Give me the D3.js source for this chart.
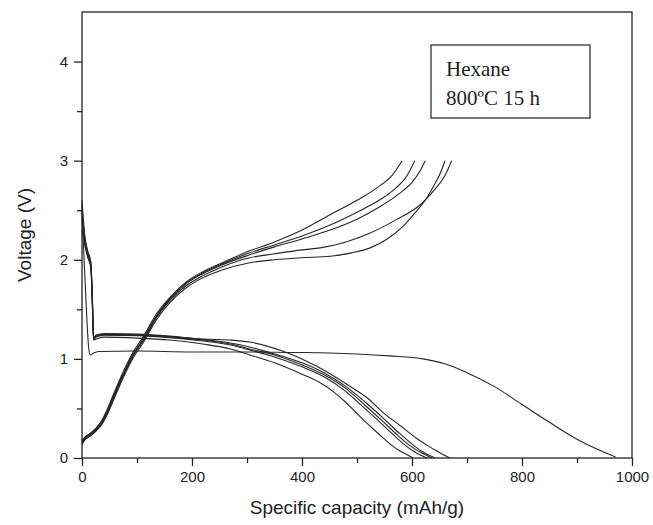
<!DOCTYPE html>
<html>
<head>
<meta charset="utf-8">
<script src="https://cdn.jsdelivr.net/npm/d3@7"></script>
<style>
  body { margin: 0; background: #fff; }
  .axis text { font-family: 'Liberation Sans', Arial, sans-serif; font-size: 15px; fill: #222; }
  .axis path, .axis line { stroke: #222; stroke-width: 1.3; }
  .curve { fill: none; stroke: #262626; stroke-width: 1.1; }
</style>
</head>
<body>
<div id="chart"></div>
<script>
// x = specific capacity (mAh/g), y = voltage (V)
const xTicks = [0, 200, 400, 600, 800, 1000];
const xMinor = [100, 300, 500, 700, 900];
const yTicks = [0, 1, 2, 3, 4];
const yMinor = [0.5, 1.5, 2.5, 3.5];
const legendLines = ['Hexane', '800ºC 15 h'];

// discharge curves
const discharge1 = [[0,2.55],[3,2.1],[8,1.5],[12,1.12],[15,1.04],[20,1.055],[30,1.075],[100,1.08],[200,1.07],[300,1.07],[378,1.065],[450,1.06],[500,1.05],[560,1.03],[620,1.0],[660,0.95],[700,0.86],[750,0.72],[800,0.54],[850,0.36],[900,0.19],[940,0.08],[970,0.01]];
const discharge2 = [[0,2.3],[5,2.15],[10,2.03],[16,1.92],[19,1.5],[21,1.19],[26,1.2],[40,1.22],[100,1.21],[160,1.19],[220,1.15],[270,1.1],[305,1.04],[350,0.96],[396,0.855],[430,0.77],[457,0.67],[480,0.56],[505,0.42],[528,0.3],[548,0.2],[565,0.12],[578,0.07],[592,0.03],[602,0.0]];
const discharge3 = [[0,2.45],[5,2.2],[10,2.06],[16,1.95],[19,1.55],[21,1.2],[26,1.22],[40,1.24],[100,1.235],[160,1.215],[220,1.18],[270,1.14],[305,1.09],[350,1.02],[400,0.92],[440,0.82],[480,0.67],[510,0.52],[540,0.37],[565,0.24],[585,0.14],[605,0.06],[627,0.0]];
const discharge4 = [[0,2.5],[5,2.22],[10,2.07],[16,1.96],[19,1.58],[21,1.21],[26,1.23],[40,1.245],[100,1.24],[160,1.22],[220,1.19],[270,1.15],[305,1.1],[350,1.04],[400,0.94],[440,0.84],[480,0.7],[515,0.53],[545,0.38],[570,0.25],[595,0.13],[615,0.06],[636,0.0]];
const discharge5 = [[0,2.4],[5,2.18],[10,2.05],[16,1.94],[19,1.56],[21,1.2],[26,1.23],[40,1.25],[100,1.245],[160,1.225],[220,1.195],[270,1.16],[305,1.12],[350,1.05],[400,0.96],[440,0.86],[480,0.72],[520,0.54],[550,0.39],[575,0.26],[600,0.14],[620,0.06],[642,0.0]];
const discharge6 = [[0,2.6],[5,2.25],[10,2.1],[16,1.98],[19,1.6],[21,1.22],[26,1.24],[40,1.255],[100,1.25],[160,1.23],[220,1.2],[270,1.19],[305,1.17],[366,1.076],[427,0.925],[487,0.724],[520,0.6],[548,0.455],[580,0.32],[608,0.2],[630,0.12],[645,0.07],[658,0.03],[669,0.0]];

// charge curves
const charge1 = [[0,0.18],[5,0.21],[15,0.25],[25,0.3],[35,0.37],[45,0.48],[57,0.64],[75,0.87],[93,1.07],[111,1.22],[136,1.46],[160,1.62],[190,1.78],[220,1.88],[251,1.96],[305,2.09],[350,2.18],[400,2.3],[451,2.455],[500,2.6],[540,2.74],[565,2.86],[582,3.0]];
const charge2 = [[0,0.17],[5,0.2],[15,0.24],[25,0.29],[35,0.36],[45,0.46],[57,0.62],[75,0.85],[93,1.05],[111,1.2],[136,1.44],[160,1.61],[190,1.77],[220,1.87],[251,1.95],[305,2.07],[350,2.15],[400,2.24],[451,2.35],[500,2.48],[540,2.6],[570,2.72],[590,2.84],[605,3.0]];
const charge3 = [[0,0.16],[5,0.2],[15,0.23],[25,0.28],[35,0.35],[45,0.45],[57,0.61],[75,0.84],[93,1.04],[111,1.19],[136,1.43],[160,1.6],[190,1.76],[220,1.86],[251,1.94],[305,2.05],[350,2.13],[400,2.21],[451,2.3],[500,2.41],[540,2.53],[575,2.66],[600,2.78],[615,2.9],[624,3.0]];
const charge4 = [[0,0.15],[5,0.19],[15,0.23],[25,0.28],[35,0.34],[45,0.44],[57,0.6],[75,0.83],[93,1.03],[111,1.18],[136,1.42],[160,1.59],[190,1.74],[220,1.84],[251,1.92],[305,2.02],[350,2.06],[400,2.1],[433,2.12],[480,2.18],[524,2.27],[570,2.4],[615,2.555],[640,2.7],[660,2.85],[672,3.0]];
const charge5 = [[0,0.14],[5,0.18],[15,0.22],[25,0.27],[35,0.33],[45,0.43],[57,0.58],[75,0.81],[93,1.01],[111,1.16],[136,1.4],[160,1.57],[190,1.72],[220,1.82],[251,1.89],[305,1.97],[350,2.0],[400,2.02],[451,2.035],[490,2.07],[524,2.12],[555,2.21],[584,2.34],[605,2.47],[624,2.6],[640,2.75],[652,2.88],[660,3.0]];

const curves = [discharge1, discharge2, discharge3, discharge4, discharge5, discharge6,
                charge1, charge2, charge3, charge4, charge5];

const W = 653, H = 525;
const margin = { top: 12, right: 21, bottom: 67, left: 82 };
const width = W - margin.left - margin.right;
const height = H - margin.top - margin.bottom;

const svg = d3.select('#chart').append('svg')
    .attr('width', W)
    .attr('height', H);

const g = svg.append('g')
    .attr('transform', `translate(${margin.left},${margin.top})`);

const x = d3.scaleLinear().domain([0, 1000]).range([0, width]);
const y = d3.scaleLinear().domain([0, 4.5]).range([height, 0]);

// minor ticks
g.append('g')
    .attr('class', 'axis')
    .attr('transform', `translate(0,${height})`)
    .call(d3.axisBottom(x).tickValues(xMinor).tickSize(5).tickFormat(''))
    .call(a => a.select('.domain').remove());
g.append('g')
    .attr('class', 'axis')
    .call(d3.axisLeft(y).tickValues(yMinor).tickSize(5).tickFormat(''))
    .call(a => a.select('.domain').remove());

// major ticks
g.append('g')
    .attr('class', 'axis')
    .attr('transform', `translate(0,${height})`)
    .call(d3.axisBottom(x).tickValues(xTicks).tickSize(8).tickPadding(5).tickFormat(d3.format('d')))
    .call(a => a.select('.domain').remove());
g.append('g')
    .attr('class', 'axis')
    .call(d3.axisLeft(y).tickValues(yTicks).tickSize(8).tickPadding(6).tickFormat(d3.format('d')))
    .call(a => a.select('.domain').remove());

// frame
g.append('rect')
    .attr('width', width)
    .attr('height', height)
    .attr('fill', 'none')
    .attr('stroke', '#222')
    .attr('stroke-width', 1.3);

const line = d3.line()
    .x(d => x(d[0]))
    .y(d => y(d[1]))
    .curve(d3.curveMonotoneX);

g.selectAll('.curve')
    .data(curves)
    .enter()
    .append('path')
    .attr('class', 'curve')
    .attr('d', line);

// axis titles
svg.append('text')
    .attr('x', margin.left + width / 2)
    .attr('y', 514)
    .attr('text-anchor', 'middle')
    .style('font-family', "'Liberation Sans', Arial, sans-serif")
    .style('font-size', '19px')
    .style('fill', '#222')
    .text('Specific capacity (mAh/g)');

svg.append('text')
    .attr('transform', `translate(31,${margin.top + height / 2}) rotate(-90)`)
    .attr('text-anchor', 'middle')
    .style('font-family', "'Liberation Sans', Arial, sans-serif")
    .style('font-size', '19px')
    .style('fill', '#222')
    .text('Voltage (V)');

// legend box
const legend = svg.append('g').attr('transform', 'translate(431,45)');
legend.append('rect')
    .attr('width', 159)
    .attr('height', 73)
    .attr('fill', '#fff')
    .attr('stroke', '#222')
    .attr('stroke-width', 1.2);
legend.selectAll('text')
    .data(legendLines)
    .enter()
    .append('text')
    .attr('x', 15)
    .attr('y', (d, i) => 31 + i * 29)
    .style('font-family', "'Liberation Serif', 'Times New Roman', serif")
    .style('font-size', '21px')
    .style('fill', '#222')
    .text(d => d);
</script>
</body>
</html>
